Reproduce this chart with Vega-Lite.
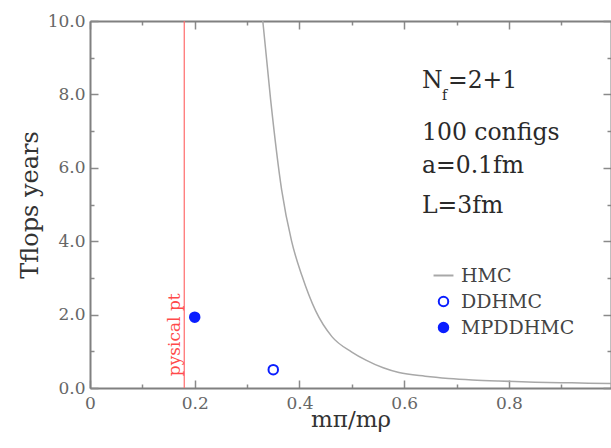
{
  "$schema": "https://vega.github.io/schema/vega-lite/v6.json",
  "width": 521,
  "height": 367,
  "autosize": {"type": "none"},
  "padding": {"left": 90, "top": 21, "right": 0, "bottom": 60},
  "background": "white",
  "config": {
    "view": {"stroke": null},
    "font": "DejaVu Serif",
    "axis": {
      "grid": false,
      "domainColor": "#808080",
      "domainWidth": 2,
      "tickColor": "#8a8a8a",
      "tickWidth": 1.5,
      "ticks": true,
      "labelFont": "DejaVu Serif",
      "labelFontSize": 17,
      "labelColor": "#666666",
      "labelFlush": false,
      "labelOverlap": false,
      "titleFont": "DejaVu Serif",
      "titleFontWeight": "normal",
      "titleColor": "#333333"
    }
  },
  "layer": [
    {
      "data": {"values": [
        {"mpi": 0.330, "t": 10.0},
        {"mpi": 0.345, "t": 7.85},
        {"mpi": 0.366, "t": 5.4},
        {"mpi": 0.385, "t": 4.0},
        {"mpi": 0.405, "t": 3.05},
        {"mpi": 0.431, "t": 2.1},
        {"mpi": 0.462, "t": 1.4},
        {"mpi": 0.500, "t": 0.98},
        {"mpi": 0.527, "t": 0.76},
        {"mpi": 0.560, "t": 0.55},
        {"mpi": 0.590, "t": 0.42},
        {"mpi": 0.640, "t": 0.32},
        {"mpi": 0.685, "t": 0.26},
        {"mpi": 0.730, "t": 0.22},
        {"mpi": 0.780, "t": 0.19},
        {"mpi": 0.850, "t": 0.16},
        {"mpi": 0.920, "t": 0.14},
        {"mpi": 0.995, "t": 0.12}
      ]},
      "mark": {"type": "line", "stroke": "#a8a8a8", "strokeWidth": 1.5, "interpolate": "monotone"},
      "encoding": {
        "x": {
          "field": "mpi", "type": "quantitative",
          "scale": {"domain": [0, 0.995], "nice": false, "zero": false},
          "axis": {
            "orient": "bottom",
            "values": [0, 0.1, 0.2, 0.3, 0.4, 0.5, 0.6, 0.7, 0.8, 0.9],
            "labelExpr": "round(datum.value*10) % 2 == 0 ? (datum.value == 0 ? '0' : format(datum.value, '.1f')) : ''",
            "tickSize": {"condition": {"test": "round(datum.value*10) % 2 == 0", "value": -8}, "value": -4},
            "labelPadding": 15,
            "title": "mπ/mρ",
            "titleFontSize": 23,
            "titlePadding": -7
          }
        },
        "y": {
          "field": "t", "type": "quantitative",
          "scale": {"domain": [0, 10], "nice": false},
          "axis": {
            "orient": "left",
            "values": [0, 1, 2, 3, 4, 5, 6, 7, 8, 9, 10],
            "labelExpr": "datum.value % 2 == 0 ? format(datum.value, '.1f') : ''",
            "tickSize": {"condition": {"test": "datum.value % 2 == 0", "value": -8}, "value": -4},
            "labelPadding": 13,
            "title": "Tflops years",
            "titleFontSize": 24,
            "titlePadding": 5
          }
        }
      }
    },
    {
      "data": {"values": [{"mpi": 0.18}]},
      "mark": {"type": "rule", "stroke": "#ff6b6b", "strokeWidth": 1.2},
      "encoding": {
        "x": {"field": "mpi", "type": "quantitative", "axis": null}
      }
    },
    {
      "data": {"values": [
        {"mpi": 0.35, "t": 0.5, "series": "DDHMC"},
        {"mpi": 0.2, "t": 1.93, "series": "MPDDHMC"}
      ]},
      "mark": {"type": "point", "filled": true, "strokeWidth": 2, "size": 90, "opacity": 1},
      "encoding": {
        "x": {
          "field": "mpi", "type": "quantitative",
          "axis": {
            "orient": "top",
            "values": [0, 0.1, 0.2, 0.3, 0.4, 0.5, 0.6, 0.7, 0.8, 0.9],
            "labels": false,
            "tickSize": {"condition": {"test": "round(datum.value*10) % 2 == 0", "value": -8}, "value": -4},
            "title": null
          }
        },
        "y": {
          "field": "t", "type": "quantitative",
          "axis": {
            "orient": "right",
            "values": [0, 1, 2, 3, 4, 5, 6, 7, 8, 9, 10],
            "labels": false,
            "tickSize": {"condition": {"test": "datum.value % 2 == 0", "value": -8}, "value": -4},
            "title": null
          }
        },
        "shape": {
          "field": "series", "type": "nominal",
          "scale": {"domain": ["HMC", "DDHMC", "MPDDHMC"], "range": ["M-2.1,0H2.1", "circle", "circle"]},
          "legend": {
            "title": null, "orient": "none", "legendX": 344, "legendY": 245, "padding": 0,
            "labelFont": "DejaVu Serif", "labelFontSize": 19, "labelColor": "#444444", "labelOffset": 8, "rowPadding": 6,
            "symbolSize": 90, "symbolStrokeWidth": 2
          }
        },
        "stroke": {
          "field": "series", "type": "nominal",
          "scale": {"domain": ["HMC", "DDHMC", "MPDDHMC"], "range": ["#a8a8a8", "#0a1eff", "#0a1eff"]},
          "legend": {
            "title": null, "orient": "none", "legendX": 344, "legendY": 245, "padding": 0,
            "labelFont": "DejaVu Serif", "labelFontSize": 19, "labelColor": "#444444", "labelOffset": 8, "rowPadding": 6,
            "symbolSize": 90, "symbolStrokeWidth": 2
          }
        },
        "fill": {
          "field": "series", "type": "nominal",
          "scale": {"domain": ["HMC", "DDHMC", "MPDDHMC"], "range": ["transparent", "white", "#0a1eff"]},
          "legend": {
            "title": null, "orient": "none", "legendX": 344, "legendY": 245, "padding": 0,
            "labelFont": "DejaVu Serif", "labelFontSize": 19, "labelColor": "#444444", "labelOffset": 8, "rowPadding": 6,
            "symbolSize": 90, "symbolStrokeWidth": 2
          }
        }
      }
    },
    {
      "data": {"values": [{"x": 0.163, "y": 1.45, "label": "pysical pt"}]},
      "mark": {"type": "text", "angle": 270, "align": "center", "baseline": "middle", "fontSize": 17, "font": "DejaVu Serif", "fill": "#ff4a4a"},
      "encoding": {
        "x": {"field": "x", "type": "quantitative", "axis": null},
        "y": {"field": "y", "type": "quantitative", "axis": null},
        "text": {"field": "label"}
      }
    },
    {
      "data": {"values": [
        {"x": 0.634, "y": 8.17, "label": "N"},
        {"x": 0.634, "y": 6.76, "label": "100 configs"},
        {"x": 0.634, "y": 5.86, "label": "a=0.1fm"},
        {"x": 0.634, "y": 4.77, "label": "L=3fm"}
      ]},
      "mark": {"type": "text", "align": "left", "baseline": "alphabetic", "fontSize": 23.5, "font": "DejaVu Serif", "fill": "#2a2a2a"},
      "encoding": {
        "x": {"field": "x", "type": "quantitative", "axis": null},
        "y": {"field": "y", "type": "quantitative", "axis": null},
        "text": {"field": "label"}
      }
    },
    {
      "data": {"values": [{"x": 0.634, "y": 8.17, "label": "f"}]},
      "mark": {"type": "text", "align": "left", "baseline": "alphabetic", "fontSize": 14, "font": "DejaVu Serif", "fill": "#2a2a2a", "dx": 20, "dy": 12},
      "encoding": {
        "x": {"field": "x", "type": "quantitative", "axis": null},
        "y": {"field": "y", "type": "quantitative", "axis": null},
        "text": {"field": "label"}
      }
    },
    {
      "data": {"values": [{"x": 0.634, "y": 8.17, "label": "=2+1"}]},
      "mark": {"type": "text", "align": "left", "baseline": "alphabetic", "fontSize": 23.5, "font": "DejaVu Serif", "fill": "#2a2a2a", "dx": 26},
      "encoding": {
        "x": {"field": "x", "type": "quantitative", "axis": null},
        "y": {"field": "y", "type": "quantitative", "axis": null},
        "text": {"field": "label"}
      }
    }
  ],
  "resolve": {"axis": {"x": "independent", "y": "independent"}}
}
